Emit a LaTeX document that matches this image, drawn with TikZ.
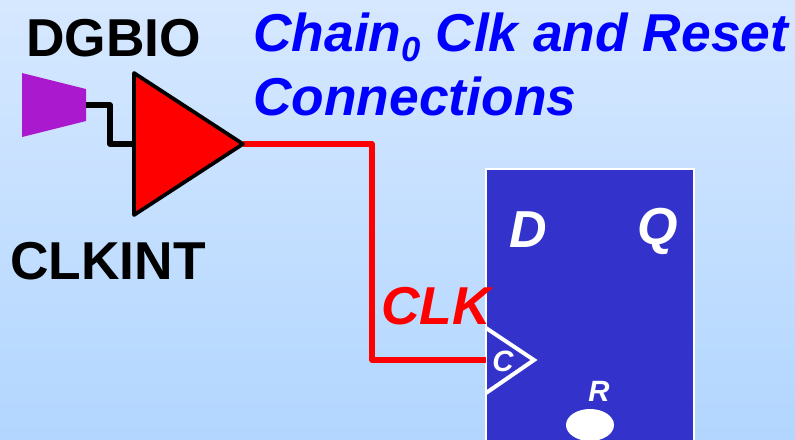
\documentclass[tikz,border=0pt]{standalone}
\usepackage{fontspec}
\setmainfont{Liberation Sans}
\usetikzlibrary{shapes.geometric}
\definecolor{bgtop}{RGB}{214,232,255}
\definecolor{bgbot}{RGB}{178,214,255}
\definecolor{ffblue}{RGB}{51,51,204}
\definecolor{padpurple}{RGB}{170,25,205}
\tikzset{
  x=0.75pt,y=-0.75pt,
  lbl/.style={inner sep=0pt,anchor=base west,font=\fontsize{40}{42}\selectfont\bfseries},
  title/.style={lbl,text=blue,font=\fontsize{40}{42}\selectfont\bfseries\itshape},
  fflbl/.style={inner sep=0pt,anchor=base,text=white,font=\fontsize{39}{42}\selectfont\bfseries\itshape},
  small/.style={inner sep=0pt,anchor=base,text=white,font=\fontsize{22}{24}\selectfont\bfseries\itshape},
  blackwire/.style={draw=black,line width=4.2pt,line join=round},
  redwire/.style={draw=red,line width=4pt,line join=round}
}
\begin{document}
\begin{tikzpicture}
\useasboundingbox (0,0) rectangle (795,439);
\clip (0,0) rectangle (795,439);
\shade[top color=bgtop,bottom color=bgbot] (0,0) rectangle (795,439);
% flip-flop
\path[fill=ffblue,draw=white,line width=1.5pt] (486,169) rectangle (693.5,445);
% pad
\path[fill=padpurple] (22,73) -- (86,89) -- (86,121) -- (22,137) -- cycle;
\coordinate (padout) at (86,105);
\coordinate (bufin) at (134,144);
\coordinate (bufout) at (243,144);
\coordinate (ckin) at (486,360);
\draw[blackwire] (padout) -- (110,105) -- (110,144) -- (bufin);
\draw[redwire] (bufout) -- (372,144) -- (372,360) -- (ckin);
% buffer
\path[fill=red,draw=black,line width=2.8pt,line join=round] (134,73) -- (243,144) -- (134,215) -- cycle;
% clock triangle
\draw[white,line width=3pt,line join=miter] (486,328) -- (534,360) -- (486,393);
% reset bubble
\path[fill=white] (590,425) ellipse (24 and 16);
% labels
\node[lbl] (dgbio) at (26,56) {DGBIO};
\node[lbl] (clkint) at (10,279) {CLKINT};
\node[title] (t1) at (253,51) {Chain\raisebox{-0.2em}{\fontsize{26}{27}\selectfont 0} Clk and Reset};
\node[title] (t2) at (253,115) {Connections};
\node[lbl,text=red,font=\fontsize{40}{42}\selectfont\bfseries\itshape] (clk) at (381,324) {CLK};
\node[fflbl] (d) at (528,247) {D};
\node[fflbl] (q) at (658,244) {Q};
\node[small] (c) at (503,371) {C};
\node[small] (r) at (599,401) {R};
\end{tikzpicture}
\end{document}
